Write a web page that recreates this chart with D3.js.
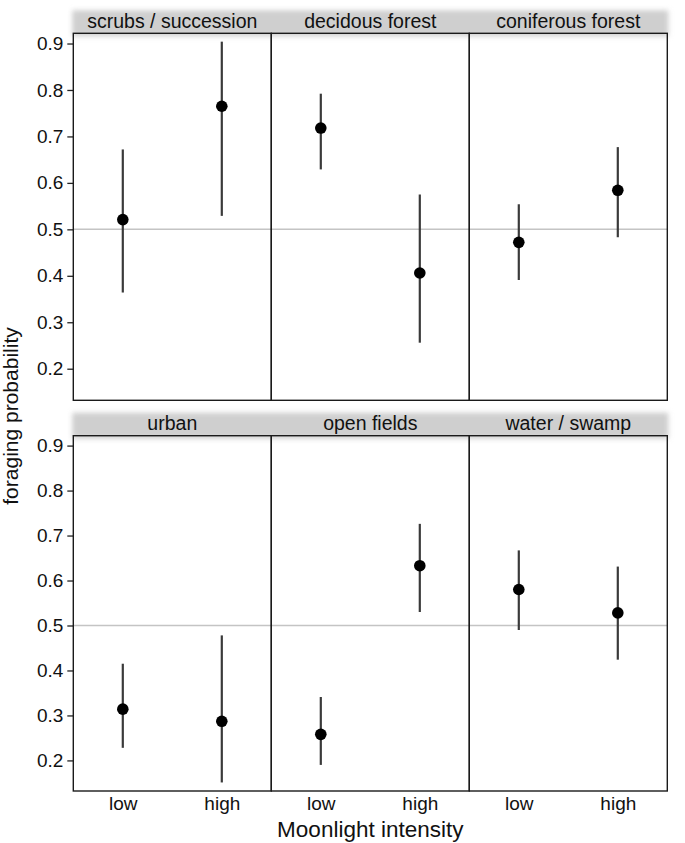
<!DOCTYPE html>
<html lang="en">
<head>
<meta charset="utf-8">
<title>Foraging probability by habitat and moonlight</title>
<script src="https://d3js.org/d3.v7.min.js"></script>
<style>
  body { margin: 0; background: #fff; }
  text { font-family: "Liberation Sans", Arial, Helvetica, sans-serif; fill: #111; }
</style>
</head>
<body>
<div id="chart"></div>
<script>
// habitat panels, in reading order (3 per row)
var habitats = ["scrubs / succession", "decidous forest", "coniferous forest",
                "urban", "open fields", "water / swamp"];
var moonlight = ["low", "high"];

// estimated foraging probability and interval, per habitat
var estLow    = [0.521, 0.718, 0.472, 0.314, 0.258, 0.580];
var lowerLow  = [0.364, 0.629, 0.391, 0.228, 0.190, 0.490];
var upperLow  = [0.672, 0.792, 0.554, 0.415, 0.341, 0.667];
var estHigh   = [0.765, 0.406, 0.584, 0.287, 0.633, 0.528];
var lowerHigh = [0.529, 0.256, 0.483, 0.151, 0.530, 0.424];
var upperHigh = [0.904, 0.575, 0.677, 0.478, 0.726, 0.631];

var yTicks = [0.2, 0.3, 0.4, 0.5, 0.6, 0.7, 0.8, 0.9];
var refValue = 0.5;

// layout
var W = 685, H = 843;
var left = 73.3, panelW = 198;
var rows = [{top: 33.3, bottom: 400.3}, {top: 435.7, bottom: 791}];
var stripH = 23;

var svg = d3.select("#chart").append("svg")
  .attr("width", W)
  .attr("height", H);

var defs = svg.append("defs");
defs.append("filter")
    .attr("id", "soft")
    .attr("x", "-10%").attr("y", "-60%")
    .attr("width", "120%").attr("height", "220%")
  .append("feGaussianBlur")
    .attr("stdDeviation", 2.5);

var x = d3.scalePoint()
  .domain(moonlight)
  .range([0, panelW])
  .padding(0.5);

var panels = habitats.map(function(h, i) {
  return {
    name: h,
    row: Math.floor(i / 3),
    col: i % 3,
    values: [
      {m: "low", est: estLow[i], lo: lowerLow[i], hi: upperLow[i]},
      {m: "high", est: estHigh[i], lo: lowerHigh[i], hi: upperHigh[i]}
    ]
  };
});

rows.forEach(function(r, ri) {
  var y = d3.scaleLinear()
    .domain([0.132, 0.922])
    .range([r.bottom, r.top]);
  var rowW = panelW * 3;

  // shaded strip band over the row
  svg.append("rect")
    .attr("x", left - 1)
    .attr("y", r.top - stripH)
    .attr("width", rowW + 2)
    .attr("height", stripH + 3)
    .attr("fill", "#cfcfcf")
    .attr("filter", "url(#soft)");

  // y axis
  svg.append("g")
    .attr("transform", "translate(" + left + ",0)")
    .call(d3.axisLeft(y).tickValues(yTicks).tickFormat(d3.format(".1f")).tickSize(6).tickPadding(4))
    .call(function(g) { g.select(".domain").remove(); })
    .call(function(g) {
      g.selectAll(".tick line").attr("stroke", "#222").attr("stroke-width", 1.3);
      g.selectAll(".tick text").style("font-size", "19px").attr("fill", "#111")
        .style("font-family", "'Liberation Sans', Arial, sans-serif");
    });

  var rowPanels = panels.filter(function(p) { return p.row === ri; });

  rowPanels.forEach(function(p) {
    var g = svg.append("g")
      .attr("transform", "translate(" + (left + p.col * panelW) + ",0)");

    // strip label
    g.append("text")
      .attr("x", panelW / 2)
      .attr("y", r.top - 5.5)
      .attr("text-anchor", "middle")
      .style("font-size", "19.5px")
      .text(p.name);

    // reference line
    g.append("line")
      .attr("x1", 0).attr("x2", panelW)
      .attr("y1", y(refValue)).attr("y2", y(refValue))
      .attr("stroke", "#c4c4c4")
      .attr("stroke-width", 1.5);

    // intervals
    g.selectAll(".bar")
      .data(p.values)
      .enter().append("line")
        .attr("class", "bar")
        .attr("x1", function(d) { return x(d.m); })
        .attr("x2", function(d) { return x(d.m); })
        .attr("y1", function(d) { return y(d.lo); })
        .attr("y2", function(d) { return y(d.hi); })
        .attr("stroke", "#3a3a3a")
        .attr("stroke-width", 2.2);

    // estimates
    g.selectAll(".pt")
      .data(p.values)
      .enter().append("circle")
        .attr("class", "pt")
        .attr("cx", function(d) { return x(d.m); })
        .attr("cy", function(d) { return y(d.est); })
        .attr("r", 5.8)
        .attr("fill", "#000");

    // panel frame
    g.append("rect")
      .attr("x", 0).attr("y", r.top)
      .attr("width", panelW).attr("height", r.bottom - r.top)
      .attr("fill", "none")
      .attr("stroke", "#1a1a1a")
      .attr("stroke-width", 1.4);

    // x labels on the bottom row only
    if (ri === rows.length - 1) {
      g.append("g")
        .attr("transform", "translate(0," + r.bottom + ")")
        .call(d3.axisBottom(x).tickSize(0).tickPadding(6))
        .call(function(a) { a.select(".domain").remove(); })
        .call(function(a) {
          a.selectAll(".tick text").style("font-size", "19px").attr("fill", "#111")
            .style("font-family", "'Liberation Sans', Arial, sans-serif");
        });
    }
  });
});

// axis titles
svg.append("text")
  .attr("x", left + panelW * 1.5)
  .attr("y", 837)
  .attr("text-anchor", "middle")
  .style("font-size", "22.5px")
  .text("Moonlight intensity");

svg.append("text")
  .attr("transform", "translate(18," + 416 + ") rotate(-90)")
  .attr("text-anchor", "middle")
  .style("font-size", "21px")
  .text("foraging probability");
</script>
</body>
</html>
